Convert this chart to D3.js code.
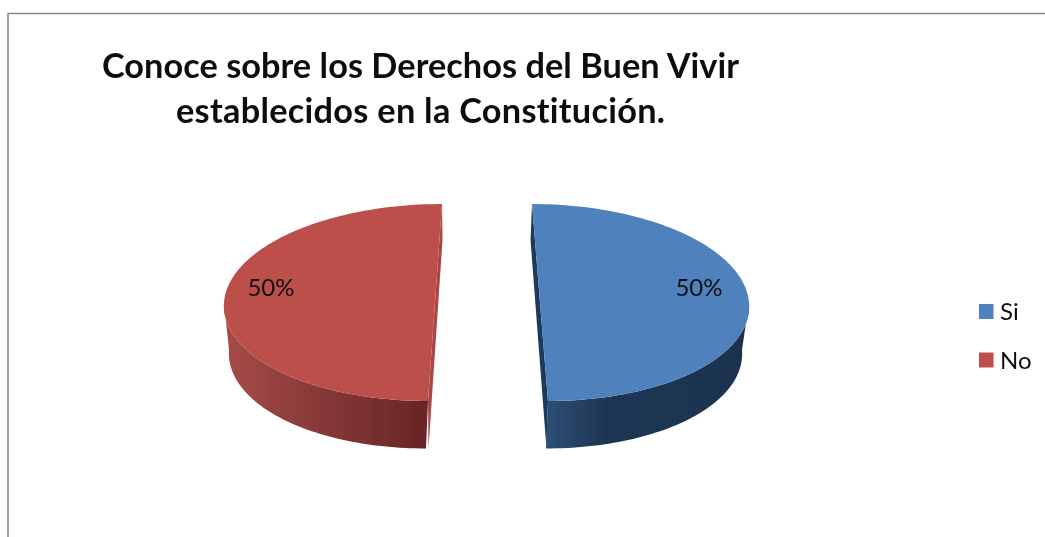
<!DOCTYPE html>
<html><head><meta charset="utf-8">
<script src="https://cdn.jsdelivr.net/npm/d3@7/dist/d3.min.js"></script>
<style>html,body{margin:0;padding:0;background:#fff}svg{display:block}text{font-family:Lato,"Open Sans",sans-serif;fill:#111;font-variant-ligatures:none}</style>
</head><body><script>
const categories = ["Si", "No"];
const seriesValues = [50, 50];
const labels = ["50%", "50%"];
const titleLines = ["Conoce sobre los Derechos del Buen Vivir", "establecidos en la Constitución."];
const colors = ["#4f81bd", "#bd4f4c"];

const W = 1045, H = 537;
const svg = d3.select("body").append("svg").attr("width", W).attr("height", H);
const defs = svg.append("defs");
defs.append("filter").attr("id", "soft").attr("filterUnits", "userSpaceOnUse")
  .attr("x", 0).attr("y", 0).attr("width", W).attr("height", H)
  .append("feGaussianBlur").attr("stdDeviation", 0.6);
const root = svg.append("g").attr("filter", "url(#soft)");

root.append("rect").attr("width", W).attr("height", H).attr("fill", "#fff");
root.append("path").attr("d", `M8,${H+5}V13.5H${W+5}`).attr("fill", "none").attr("stroke", "#8a8a8a").attr("stroke-width", 1.6);

const titleWidths = [637, 489];
root.selectAll("text.title").data(titleLines).join("text").attr("class", "title")
  .attr("x", 420.5).attr("y", (d, i) => 78 + i * 45).attr("text-anchor", "middle")
  .attr("font-size", 34.3).attr("font-weight", 700)
  .attr("textLength", (d, i) => titleWidths[i]).attr("lengthAdjust", "spacing").text(d => d);

// per-slice geometry of the exploded 3D view
const geo = [
  { cx: 540, bx: 538, skew: 0.081, rx: 209, brx: 204, sliver: "#1f3a5c", cutDx: -1.5,
    stops: [[0, "#2f4f76"], [0.3, "#1f3552"], [1, "#1e3350"]], x0: 546, x1: 745, lx: 699, ly: 296 },
  { cx: 435, bx: 433, skew: -0.071, rx: 211, brx: 204, sliver: "#a84644", cutDx: 0.5,
    stops: [[0, "#a54a48"], [0.5, "#843836"], [1, "#682525"]], x0: 229, x1: 429, lx: 271, ly: 296 }
];
const cy = 302.5, ry = 98.5, by = 350, bry = 98.5;

const pie = d3.pie().sort(null).startAngle(0).endAngle(2 * Math.PI);
const arcs = pie(seriesValues);

function pt(g, t, c, rx, yc, yr) {
  const dy = -yr * Math.cos(t);
  return [c + rx * Math.sin(t) + g.skew * dy, yc + dy];
}
const line = d3.line();

arcs.forEach((a, i) => {
  const g = geo[i], s = root.append("g");
  const ts = d3.range(0, 121).map(k => a.startAngle + (a.endAngle - a.startAngle) * k / 120);
  const gid = "side" + i;
  const lg = defs.append("linearGradient").attr("id", gid).attr("gradientUnits", "userSpaceOnUse")
    .attr("x1", g.x0).attr("x2", g.x1).attr("y1", 0).attr("y2", 0);
  g.stops.forEach(st => lg.append("stop").attr("offset", st[0]).attr("stop-color", st[1]));

  // inner cut face: rim top, rim bottom, extruded bottom, fading into the rim top
  const ends = [pt(g, a.startAngle, g.cx, g.rx, cy, ry), pt(g, a.endAngle, g.cx, g.rx, cy, ry)];
  const rimTop = ends[0][1] < ends[1][1] ? ends[0] : ends[1];
  const rimBot = ends[0][1] < ends[1][1] ? ends[1] : ends[0];
  const cut = [rimTop, rimBot, [rimBot[0] + g.cutDx, by + bry], [rimTop[0] + g.cutDx, rimTop[1] + 36]];
  s.append("path").attr("d", line(cut) + "Z").attr("fill", g.sliver);

  // outer side wall: lower half of the rim, extruded
  const low = ts.filter(t => Math.cos(t) <= 0.02);
  const wall = low.map(t => pt(g, t, g.cx, g.rx, cy, ry))
    .concat(low.slice().reverse().map(t => pt(g, t, g.bx, g.brx, by, bry)));
  s.append("path").attr("d", line(wall) + "Z").attr("fill", `url(#${gid})`);

  // top face
  s.append("path").attr("d", line(ts.map(t => pt(g, t, g.cx, g.rx, cy, ry))) + "Z").attr("fill", colors[i]);

  s.append("text").attr("x", g.lx).attr("y", g.ly).attr("text-anchor", "middle")
    .attr("font-size", 24).attr("font-weight", 400).text(labels[i]);
});

// legend
const legY = d3.scalePoint().domain(categories).range([311.5, 360]);
const leg = root.selectAll("g.leg").data(categories).join("g").attr("class", "leg")
  .attr("transform", d => `translate(979,${legY(d)})`);
leg.append("rect").attr("x", 0).attr("y", -7.5).attr("width", 14.5).attr("height", 15)
  .attr("fill", (d, i) => colors[i]);
leg.append("text").attr("x", 21).attr("y", 8.5).attr("font-size", 24).text(d => d);
</script></body></html>
